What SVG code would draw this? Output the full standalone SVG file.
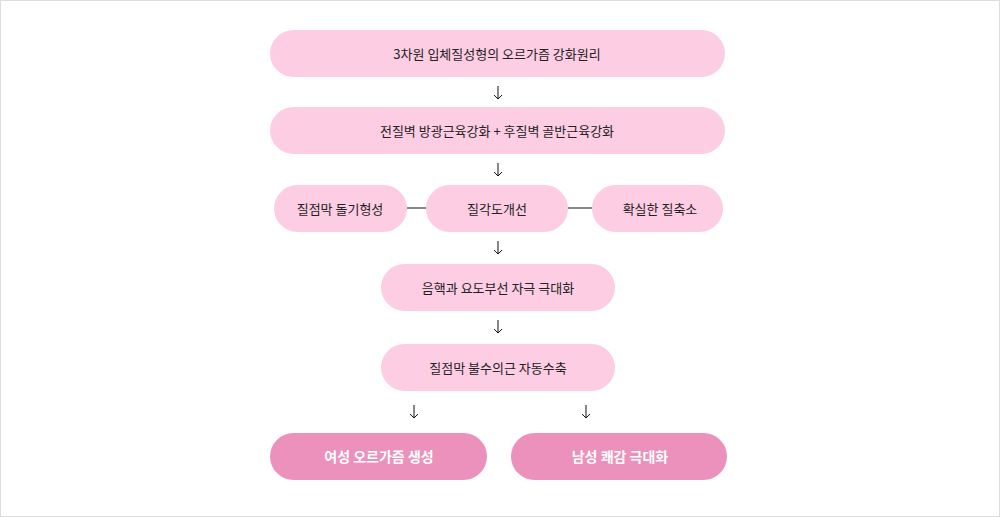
<svg xmlns="http://www.w3.org/2000/svg" width="1000" height="517" viewBox="0 0 1000 517">
<style>
.n{fill:#fdcde3}.d{fill:#ec91bb}
text{font-family:"Noto Sans CJK KR","Noto Sans",sans-serif;font-size:13px;text-anchor:middle;dominant-baseline:central;fill:#222}
.w{fill:#fff;font-weight:bold;font-size:14px}
.c{stroke:#111;stroke-width:1;fill:none}
</style>
<rect x="0.5" y="0.5" width="999" height="516" fill="#fff" stroke="#ddd"/>
<g id="n1"><rect class="n" x="270" y="30" width="455" height="47" rx="23.5"/><text x="497" y="53">3차원 입체질성형의 오르가즘 강화원리</text></g>
<g id="n2"><rect class="n" x="270" y="107" width="455" height="47" rx="23.5"/><text x="497" y="130">전질벽 방광근육강화 + 후질벽 골반근육강화</text></g>
<g id="n3"><rect class="n" x="274" y="185" width="133" height="47" rx="23.5"/><text x="340" y="208">질점막 돌기형성</text></g>
<g id="n4"><rect class="n" x="426" y="185" width="142" height="47" rx="23.5"/><text x="497" y="208">질각도개선</text></g>
<g id="n5"><rect class="n" x="592" y="185" width="131" height="47" rx="23.5"/><text x="660" y="208">확실한 질축소</text></g>
<g id="n6"><rect class="n" x="381" y="264" width="234" height="47" rx="23.5"/><text x="498" y="287">음핵과 요도부선 자극 극대화</text></g>
<g id="n7"><rect class="n" x="381" y="344" width="234" height="47" rx="23.5"/><text x="498" y="367">질점막 불수의근 자동수축</text></g>
<g id="n8"><rect class="d" x="270" y="433" width="217" height="47" rx="23.5"/><text class="w" x="379" y="456">여성 오르가즘 생성</text></g>
<g id="n9"><rect class="d" x="511" y="433" width="216" height="47" rx="23.5"/><text class="w" x="620" y="456">남성 쾌감 극대화</text></g>
<g id="connectors" class="c">
<path d="M407 208H426M568 208H592"/>
<path d="M498 86V99M494 95L498 99L502 95"/>
<path d="M498 163V176M494 172L498 176L502 172"/>
<path d="M498 241V254M494 250L498 254L502 250"/>
<path d="M498 320V333M494 329L498 333L502 329"/>
<path d="M414 405V418M410 414L414 418L418 414"/>
<path d="M586 405V418M582 414L586 418L590 414"/>
</g>
</svg>
